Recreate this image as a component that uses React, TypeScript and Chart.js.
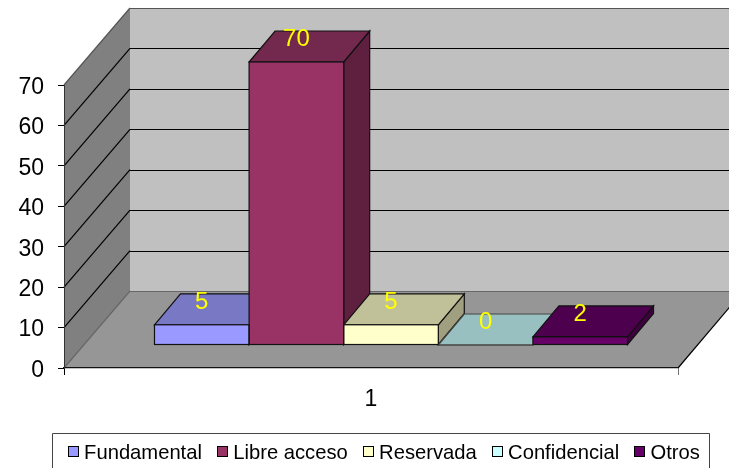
import React, { useEffect, useRef } from "react";
import { Chart, registerables } from "chart.js";

Chart.register(...registerables);

const categories = ["1"];
const seriesNames = ["Fundamental", "Libre acceso", "Reservada", "Confidencial", "Otros"];
const seriesValues = [5, 70, 5, 0, 2];
const frontColors = ["#9999FF", "#993366", "#FFFFCC", "#CCFFFF", "#660066"];
const topColors = ["#7878C4", "#73284D", "#C0C099", "#99C0C0", "#4D004D"];
const sideColors = ["#5F5F9F", "#5F2040", "#A0A080", "#80A0A0", "#400040"];
const yTicks = [0, 10, 20, 30, 40, 50, 60, 70];

const FONT = "'Liberation Sans', Arial, sans-serif";
const W = 729;
const H = 468;
const WALL_DX = 66;
const WALL_DY = -77;
const BAR_DX = 20;
const BAR_DY = -23;
const DEPTH_DX = 26;
const DEPTH_DY = -31;
const LEGEND_PAD = 15.25;

function poly(ctx: CanvasRenderingContext2D, pts: number[][], fill: string | null, stroke: string | null) {
  ctx.beginPath();
  pts.forEach((p, i) => (i ? ctx.lineTo(p[0], p[1]) : ctx.moveTo(p[0], p[1])));
  ctx.closePath();
  if (fill) {
    ctx.fillStyle = fill;
    ctx.fill();
  }
  if (stroke) {
    ctx.strokeStyle = stroke;
    ctx.lineWidth = 1.2;
    ctx.stroke();
  }
}

function line(ctx: CanvasRenderingContext2D, x1: number, y1: number, x2: number, y2: number, color: string) {
  ctx.beginPath();
  ctx.moveTo(x1, y1);
  ctx.lineTo(x2, y2);
  ctx.strokeStyle = color;
  ctx.lineWidth = 1.2;
  ctx.stroke();
}

const scene3d = {
  id: "scene3d",
  afterLayout(chart: any) {
    const lg = chart.legend;
    if (!lg) return;
    const h = lg.height;
    const w = lg.width;
    lg.left = 68 - LEGEND_PAD;
    lg.right = lg.left + w;
    lg.top = 455.5 - LEGEND_PAD - 12.3;
    lg.bottom = lg.top + h;
  },
  beforeDraw(chart: any) {
    const { ctx, chartArea } = chart;
    const y = chart.scales.y;
    const L = chartArea.left;
    const R = chartArea.right;
    const y0 = y.getPixelForValue(0);
    const yMax = y.getPixelForValue(70);
    ctx.save();
    ctx.fillStyle = "#fff";
    ctx.fillRect(0, 0, W, H);
    const bx = L + WALL_DX;
    ctx.fillStyle = "#C0C0C0";
    ctx.fillRect(bx, yMax + WALL_DY, W - bx, y0 - yMax);
    poly(ctx, [[L, yMax], [bx, yMax + WALL_DY], [bx, y0 + WALL_DY], [L, y0]], "#808080", null);
    poly(ctx, [[L, y0], [bx, y0 + WALL_DY], [W + 5, y0 + WALL_DY], [W + 5, y0 + WALL_DY + 11], [R, y0]], "#969696", null);
    for (const v of yTicks) {
      const p = y.getPixelForValue(v);
      if (v === 0) {
        line(ctx, L, p, bx, p + WALL_DY, "#666");
        line(ctx, bx, p + WALL_DY + 0.5, W, p + WALL_DY + 0.5, "#666");
      } else if (v === 70) {
        line(ctx, L, p, bx, p + WALL_DY, "#555");
        line(ctx, bx, p + WALL_DY + 0.5, W, p + WALL_DY + 0.5, "#555");
      } else {
        line(ctx, L, p, bx, p + WALL_DY, "#000");
        line(ctx, bx, Math.round(p + WALL_DY) + 0.5, W, Math.round(p + WALL_DY) + 0.5, "#000");
      }
    }
    line(ctx, R, y0, W + 5, y0 + WALL_DY + 11, "#000");
    ctx.restore();
  },
  beforeDatasetsDraw(chart: any) {
    const { ctx } = chart;
    ctx.save();
    ctx.translate(BAR_DX, BAR_DY);
    chart.data.datasets.forEach((_: any, i: number) => {
      const el = chart.getDatasetMeta(i).data[0];
      const half = el.width / 2;
      const x1 = el.x - half;
      const x2 = el.x + half;
      const t = el.y;
      const b = el.base;
      poly(
        ctx,
        [[x2, t], [x2 + DEPTH_DX, t + DEPTH_DY], [x2 + DEPTH_DX, b + DEPTH_DY], [x2, b]],
        sideColors[i],
        "#111"
      );
      poly(
        ctx,
        [[x1, t], [x2, t], [x2 + DEPTH_DX, t + DEPTH_DY], [x1 + DEPTH_DX, t + DEPTH_DY]],
        topColors[i],
        i === 3 ? "#444" : "#111"
      );
    });
  },
  afterDatasetsDraw(chart: any) {
    const { ctx } = chart;
    chart.data.datasets.forEach((_: any, i: number) => {
      const el = chart.getDatasetMeta(i).data[0];
      const half = el.width / 2;
      ctx.strokeStyle = i === 3 ? "#444" : "#111";
      ctx.lineWidth = 1.2;
      ctx.strokeRect(el.x - half, el.y, el.width, el.base - el.y);
    });
    ctx.font = `24px ${FONT}`;
    ctx.fillStyle = "#FFFF00";
    ctx.textAlign = "center";
    ctx.textBaseline = "middle";
    chart.data.datasets.forEach((ds: any, i: number) => {
      const el = chart.getDatasetMeta(i).data[0];
      ctx.fillText(String(ds.data[0]), el.x, el.y - 22.5);
    });
    ctx.restore();
  },
  afterDraw(chart: any) {
    const { ctx, legend } = chart;
    ctx.save();
    ctx.strokeStyle = "#444";
    ctx.lineWidth = 1;
    ctx.beginPath();
    ctx.moveTo(52.5, H);
    ctx.lineTo(52.5, 433.5);
    ctx.lineTo(709.5, 433.5);
    ctx.lineTo(709.5, H);
    ctx.stroke();
    legend.legendHitBoxes.forEach((box: any, i: number) => {
      ctx.fillStyle = frontColors[i];
      ctx.fillRect(Math.round(box.left) + 0.5, 446.5, 10, 10);
      ctx.strokeStyle = "#000";
      ctx.strokeRect(Math.round(box.left) + 0.5, 446.5, 10, 10);
    });
    ctx.restore();
  },
};

export default function App() {
  const ref = useRef<HTMLCanvasElement>(null);
  useEffect(() => {
    if (!ref.current) return;
    const chart = new Chart(ref.current, {
      type: "bar",
      data: {
        labels: categories,
        datasets: seriesNames.map((name, i) => ({
          label: name,
          data: [seriesValues[i]],
          backgroundColor: frontColors[i],
          borderWidth: 0,
          categoryPercentage: 0.7704,
          barPercentage: 1,
          clip: false,
        })),
      },
      options: {
        animation: false,
        responsive: false,
        events: [],
        layout: { padding: { left: 0, top: 85, right: 51, bottom: 0 } },
        scales: {
          x: {
            offset: true,
            afterFit: (s: any) => {
              s.height = 100 - (s.chart.legend?.height ?? 0);
            },
            grid: {
              offset: true,
              drawOnChartArea: false,
              tickLength: 7,
              color: (c: any) => (c.index === 0 ? "#000" : "#777"),
            },
            border: { color: "#111", width: 1.2 },
            ticks: { color: "#000", font: { family: FONT, size: 23 }, padding: 11 },
          },
          y: {
            min: 0,
            max: 70,
            afterFit: (s: any) => {
              s.width = 64;
            },
            afterBuildTicks: (s: any) => {
              s.ticks = yTicks.map((value) => ({ value }));
            },
            grid: { drawOnChartArea: false, tickLength: 6, color: "#000" },
            border: { color: "#333" },
            ticks: { color: "#000", font: { family: FONT, size: 23 }, padding: 14, labelOffset: 2.5 },
          },
        },
        plugins: {
          title: { display: false },
          tooltip: { enabled: false },
          legend: {
            display: true,
            position: "bottom",
            align: "start",
            labels: {
              boxWidth: 6,
              boxHeight: 6,
              padding: LEGEND_PAD,
              color: "#000",
              font: { family: FONT, size: 20.2 },
            },
          },
        },
      },
      plugins: [scene3d],
    } as any);
    return () => chart.destroy();
  }, []);
  return (
    <div style={{ position: "absolute", left: 0, top: 0, width: W, height: H, background: "#fff" }}>
      <canvas ref={ref} width={W} height={H} style={{ display: "block" }} />
    </div>
  );
}
